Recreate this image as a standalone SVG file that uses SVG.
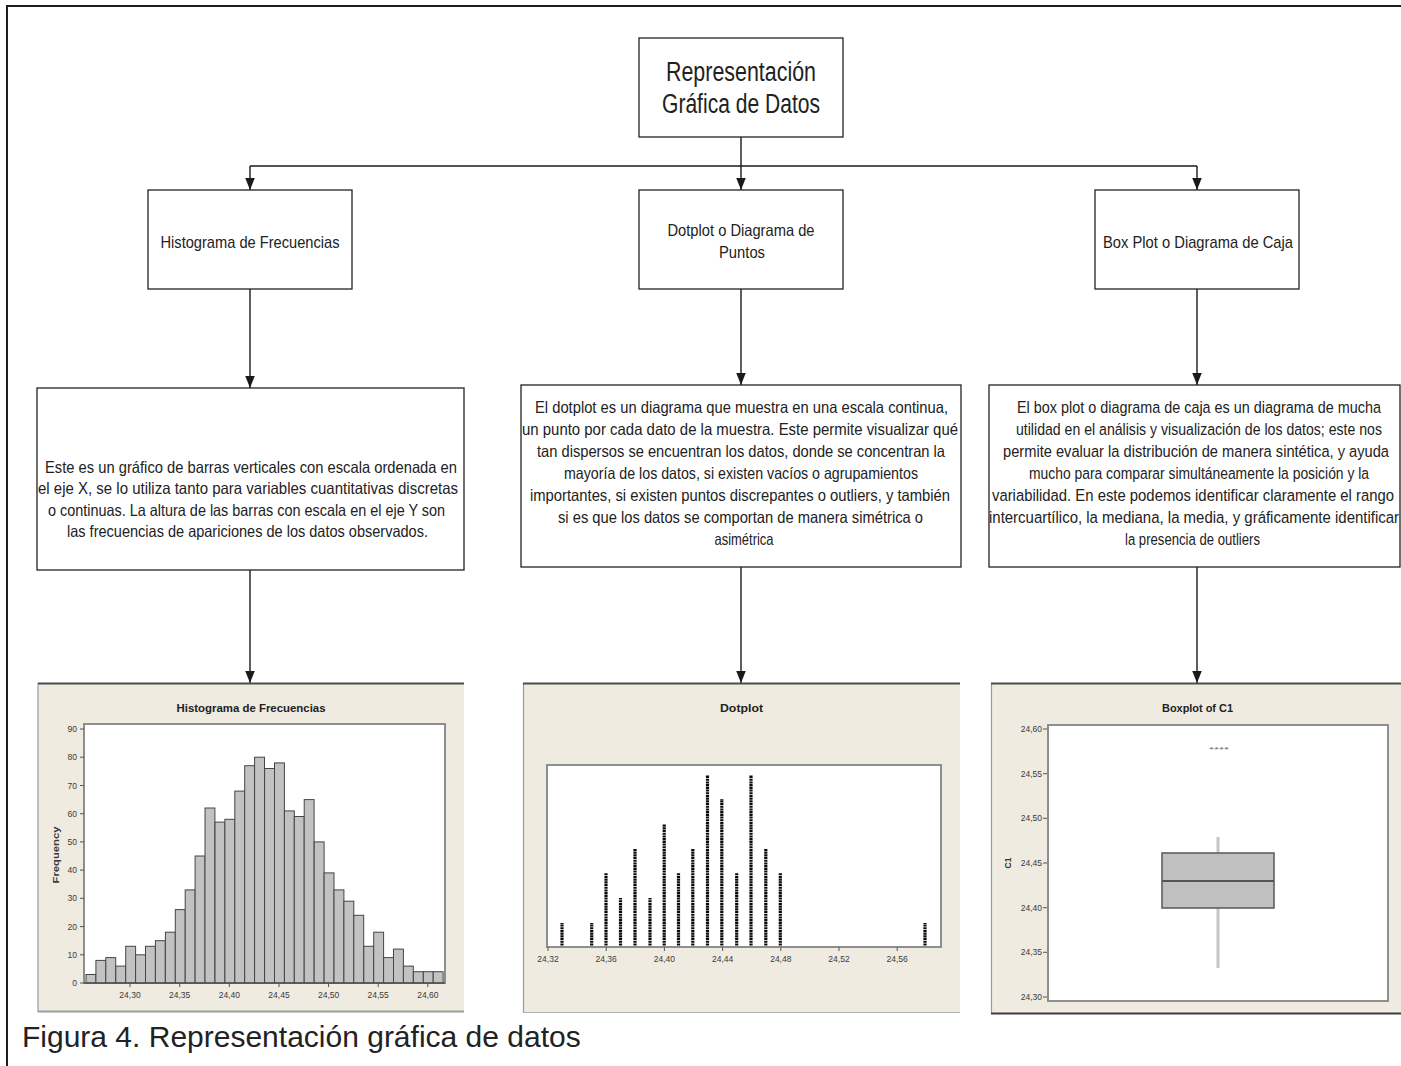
<svg xmlns="http://www.w3.org/2000/svg" width="1401" height="1066" viewBox="0 0 1401 1066">
  <defs>
    <marker id="arrow" markerUnits="userSpaceOnUse" markerWidth="12" markerHeight="10" refX="12" refY="4.75" orient="auto">
      <path d="M0,0 L12,4.75 L0,9.5 z" fill="#1a1a1a"/>
    </marker>
    <style>
      .box { fill: #ffffff; stroke: #222222; stroke-width: 1.3; }
      .lbl { font-family: "Liberation Sans", Arial, sans-serif; fill: #222222; text-anchor: middle; }
      .con { fill: none; stroke: #1a1a1a; stroke-width: 1.4; }
      .panel { fill: #EFEBE1; }
      .plot { fill: #ffffff; stroke: #8e8e8e; stroke-width: 2; }
      .tick { font-family: "Liberation Sans", Arial, sans-serif; font-size: 8.5px; fill: #3a3a3a; }
      .ttl { font-family: "Liberation Sans", Arial, sans-serif; font-size: 10.5px; font-weight: bold; fill: #222222; text-anchor: middle; }
      .bar { fill: #C2C2C2; stroke: #454545; stroke-width: 1; }
      .dots { stroke: #0a0a0a; stroke-width: 3.2; stroke-dasharray: 2.1 0.6; }
      .tk { stroke: #555555; stroke-width: 1; }
    </style>
  </defs>

  <rect x="0" y="0" width="1401" height="1066" fill="#ffffff"/>

  <!-- page frame -->
  <path d="M7,1066 V6 H1401" fill="none" stroke="#1e1e1e" stroke-width="2"/>

  <!-- connectors -->
  <g id="connectors">
    <path class="con" d="M741,137 V166"/>
    <path class="con" d="M250,166 H1197"/>
    <path class="con" d="M250,166 V190" marker-end="url(#arrow)"/>
    <path class="con" d="M741,166 V190" marker-end="url(#arrow)"/>
    <path class="con" d="M1197,166 V190" marker-end="url(#arrow)"/>
    <path class="con" d="M250,289 V388" marker-end="url(#arrow)"/>
    <path class="con" d="M741,289 V385" marker-end="url(#arrow)"/>
    <path class="con" d="M1197,289 V385" marker-end="url(#arrow)"/>
    <path class="con" d="M250,570 V683" marker-end="url(#arrow)"/>
    <path class="con" d="M741,567 V683" marker-end="url(#arrow)"/>
    <path class="con" d="M1197,567 V683" marker-end="url(#arrow)"/>
  </g>

  <!-- root -->
  <g id="root">
    <rect class="box" x="639" y="38" width="204" height="99"/>
    <text class="lbl" x="741" y="81" font-size="27" textLength="150" lengthAdjust="spacingAndGlyphs">Representación</text>
    <text class="lbl" x="741" y="113" font-size="27" textLength="158" lengthAdjust="spacingAndGlyphs">Gráfica de Datos</text>
  </g>

  <!-- level 1 -->
  <g id="histograma">
    <rect class="box" x="148" y="190" width="204" height="99"/>
    <text class="lbl" x="250" y="247.5" font-size="17" textLength="179" lengthAdjust="spacingAndGlyphs">Histograma de Frecuencias</text>
  </g>
  <g id="dotplot">
    <rect class="box" x="639" y="190" width="204" height="99"/>
    <text class="lbl" x="741" y="236" font-size="16.5" textLength="147" lengthAdjust="spacingAndGlyphs">Dotplot o Diagrama de</text>
    <text class="lbl" x="742" y="258" font-size="16.5" textLength="46" lengthAdjust="spacingAndGlyphs">Puntos</text>
  </g>
  <g id="boxplot">
    <rect class="box" x="1095" y="190" width="204" height="99"/>
    <text class="lbl" x="1198" y="247.5" font-size="17" textLength="190" lengthAdjust="spacingAndGlyphs">Box Plot o Diagrama de Caja</text>
  </g>

  <!-- level 2: descriptions -->
  <g id="histograma-desc">
    <rect class="box" x="37" y="388" width="427" height="182"/>
    <g class="lbl" font-size="16.5">
      <text x="251" y="472.5" textLength="412" lengthAdjust="spacingAndGlyphs">Este es un gráfico de barras verticales con escala ordenada en</text>
      <text x="248" y="494" textLength="420" lengthAdjust="spacingAndGlyphs">el eje X, se lo utiliza tanto para variables cuantitativas discretas</text>
      <text x="246.5" y="515.5" textLength="397" lengthAdjust="spacingAndGlyphs">o continuas. La altura de las barras con escala en el eje Y son</text>
      <text x="247.5" y="537" textLength="361" lengthAdjust="spacingAndGlyphs">las frecuencias de apariciones de los datos observados.</text>
    </g>
  </g>
  <g id="dotplot-desc">
    <rect class="box" x="521" y="385" width="440" height="182"/>
    <g class="lbl" font-size="16.5">
      <text x="741.5" y="412.5" textLength="413" lengthAdjust="spacingAndGlyphs">El dotplot es un diagrama que muestra en una escala continua,</text>
      <text x="740" y="434.5" textLength="436" lengthAdjust="spacingAndGlyphs">un punto por cada dato de la muestra. Este permite visualizar qué</text>
      <text x="741" y="456.5" textLength="408" lengthAdjust="spacingAndGlyphs">tan dispersos se encuentran los datos, donde se concentran la</text>
      <text x="741" y="478.5" textLength="354" lengthAdjust="spacingAndGlyphs">mayoría de los datos, si existen vacíos o agrupamientos</text>
      <text x="740" y="500.5" textLength="420" lengthAdjust="spacingAndGlyphs">importantes, si existen puntos discrepantes o outliers, y también</text>
      <text x="740.5" y="522.5" textLength="365" lengthAdjust="spacingAndGlyphs">si es que los datos se comportan de manera simétrica o</text>
      <text x="744" y="544.5" textLength="59" lengthAdjust="spacingAndGlyphs">asimétrica</text>
    </g>
  </g>
  <g id="boxplot-desc">
    <rect class="box" x="989" y="385" width="411" height="182"/>
    <!-- narrowed text block so it fits the box near the page edge -->
    <g class="lbl" font-size="16.5" transform="translate(1196,0) scale(0.9,1)">
      <text x="3.33" y="413" textLength="404.4" lengthAdjust="spacingAndGlyphs">El box plot o diagrama de caja es un diagrama de mucha</text>
      <text x="3.33" y="435" textLength="406.7" lengthAdjust="spacingAndGlyphs">utilidad en el análisis y visualización de los datos; este nos</text>
      <text x="0" y="457" textLength="428.9" lengthAdjust="spacingAndGlyphs">permite evaluar la distribución de manera sintética, y ayuda</text>
      <text x="3.33" y="479" textLength="377.8" lengthAdjust="spacingAndGlyphs">mucho para comparar simultáneamente la posición y la</text>
      <text x="-3.33" y="501" textLength="446.7" lengthAdjust="spacingAndGlyphs">variabilidad. En este podemos identificar claramente el rango</text>
      <text x="-2.22" y="523" textLength="455.6" lengthAdjust="spacingAndGlyphs">intercuartílico, la mediana, la media, y gráficamente identificar</text>
      <text x="-3.89" y="545" textLength="150" lengthAdjust="spacingAndGlyphs">la presencia de outliers</text>
    </g>
  </g>

  <!-- level 3: histogram chart -->
  <g id="histograma-chart">
    <rect class="panel" x="38" y="683" width="426" height="329"/>
    <path d="M38,1012 V683" stroke="#9a9a9a" stroke-width="1.2"/>
    <path d="M38,683.5 H464" stroke="#4d4d4d" stroke-width="2"/>
    <path d="M38,1011.5 H464" stroke="#9c9c9c" stroke-width="2"/>
    <text class="ttl" x="251" y="712" textLength="149" lengthAdjust="spacingAndGlyphs">Histograma de Frecuencias</text>
    <rect class="plot" x="84" y="724" width="361" height="259"/>
    <g>
      <rect class="bar" x="86.0" y="974.5" width="9.9" height="8.5"/>
      <rect class="bar" x="95.9" y="960.4" width="9.9" height="22.6"/>
      <rect class="bar" x="105.8" y="957.6" width="9.9" height="25.4"/>
      <rect class="bar" x="115.8" y="966.1" width="9.9" height="16.9"/>
      <rect class="bar" x="125.7" y="946.3" width="9.9" height="36.7"/>
      <rect class="bar" x="135.6" y="954.8" width="9.9" height="28.2"/>
      <rect class="bar" x="145.5" y="946.3" width="9.9" height="36.7"/>
      <rect class="bar" x="155.4" y="940.7" width="9.9" height="42.3"/>
      <rect class="bar" x="165.4" y="932.2" width="9.9" height="50.8"/>
      <rect class="bar" x="175.3" y="909.6" width="9.9" height="73.4"/>
      <rect class="bar" x="185.2" y="889.9" width="9.9" height="93.1"/>
      <rect class="bar" x="195.1" y="856.0" width="9.9" height="127.0"/>
      <rect class="bar" x="205.0" y="808.0" width="9.9" height="175.0"/>
      <rect class="bar" x="215.0" y="822.1" width="9.9" height="160.9"/>
      <rect class="bar" x="224.9" y="819.3" width="9.9" height="163.7"/>
      <rect class="bar" x="234.8" y="791.1" width="9.9" height="191.9"/>
      <rect class="bar" x="244.7" y="765.7" width="9.9" height="217.3"/>
      <rect class="bar" x="254.6" y="757.2" width="9.9" height="225.8"/>
      <rect class="bar" x="264.6" y="768.5" width="9.9" height="214.5"/>
      <rect class="bar" x="274.5" y="762.9" width="9.9" height="220.1"/>
      <rect class="bar" x="284.4" y="810.9" width="9.9" height="172.1"/>
      <rect class="bar" x="294.3" y="816.5" width="9.9" height="166.5"/>
      <rect class="bar" x="304.2" y="799.6" width="9.9" height="183.4"/>
      <rect class="bar" x="314.2" y="841.9" width="9.9" height="141.1"/>
      <rect class="bar" x="324.1" y="872.9" width="9.9" height="110.1"/>
      <rect class="bar" x="334.0" y="889.9" width="9.9" height="93.1"/>
      <rect class="bar" x="343.9" y="901.2" width="9.9" height="81.8"/>
      <rect class="bar" x="353.8" y="915.3" width="9.9" height="67.7"/>
      <rect class="bar" x="363.8" y="946.3" width="9.9" height="36.7"/>
      <rect class="bar" x="373.7" y="932.2" width="9.9" height="50.8"/>
      <rect class="bar" x="383.6" y="957.6" width="9.9" height="25.4"/>
      <rect class="bar" x="393.5" y="949.1" width="9.9" height="33.9"/>
      <rect class="bar" x="403.4" y="966.1" width="9.9" height="16.9"/>
      <rect class="bar" x="413.4" y="971.7" width="9.9" height="11.3"/>
      <rect class="bar" x="423.3" y="971.7" width="9.9" height="11.3"/>
      <rect class="bar" x="433.2" y="971.7" width="9.9" height="11.3"/>
    </g>
    <path d="M84,983 H445" stroke="#555555" stroke-width="1.5"/>
    <!-- axis ticks -->
    <g class="tk">
      <path d="M80,983 H84 M80,954.8 H84 M80,926.6 H84 M80,898.3 H84 M80,870.1 H84 M80,841.9 H84 M80,813.7 H84 M80,785.5 H84 M80,757.2 H84 M80,729 H84"/>
      <path d="M130,983 V987 M179.7,983 V987 M229.3,983 V987 M279,983 V987 M328.6,983 V987 M378.2,983 V987 M427.8,983 V987"/>
    </g>
    <g class="tick" text-anchor="end">
      <text x="77" y="986">0</text>
      <text x="77" y="957.8">10</text>
      <text x="77" y="929.6">20</text>
      <text x="77" y="901.3">30</text>
      <text x="77" y="873.1">40</text>
      <text x="77" y="844.9">50</text>
      <text x="77" y="816.7">60</text>
      <text x="77" y="788.5">70</text>
      <text x="77" y="760.2">80</text>
      <text x="77" y="732">90</text>
    </g>
    <g class="tick" text-anchor="middle">
      <text x="130" y="998">24,30</text>
      <text x="179.7" y="998">24,35</text>
      <text x="229.3" y="998">24,40</text>
      <text x="279" y="998">24,45</text>
      <text x="328.6" y="998">24,50</text>
      <text x="378.2" y="998">24,55</text>
      <text x="427.8" y="998">24,60</text>
    </g>
    <text class="tick" font-weight="bold" fill="#111111" text-anchor="middle" transform="translate(58.5,855) rotate(-90)" textLength="57" lengthAdjust="spacingAndGlyphs">Frequency</text>
  </g>

  <!-- level 3: dotplot chart -->
  <g id="dotplot-chart">
    <rect class="panel" x="523" y="683" width="437" height="330"/>
    <path d="M523.5,1013 V683" stroke="#9a9a9a" stroke-width="1.2"/>
    <path d="M523,683.5 H960" stroke="#4d4d4d" stroke-width="2"/>
    <path d="M523,1012.5 H960" stroke="#b0b0b0" stroke-width="1.2"/>
    <text class="ttl" x="741.5" y="712" font-family="Liberation Serif, serif" textLength="43" lengthAdjust="spacingAndGlyphs">Dotplot</text>
    <rect class="plot" x="547" y="765" width="394" height="182"/>
    <g class="dots">
      <path d="M562,945.5 V923"/>
      <path d="M591.7,945.5 V923"/>
      <path d="M606,945.5 V873"/>
      <path d="M620.5,945.5 V898"/>
      <path d="M635,945.5 V849"/>
      <path d="M650,945.5 V898"/>
      <path d="M664.2,945.5 V824"/>
      <path d="M678.5,945.5 V873"/>
      <path d="M692.8,945.5 V849"/>
      <path d="M707.5,945.5 V775"/>
      <path d="M721.8,945.5 V799"/>
      <path d="M736.7,945.5 V873"/>
      <path d="M751,945.5 V775"/>
      <path d="M765.8,945.5 V849"/>
      <path d="M780.3,945.5 V873"/>
      <path d="M925,945.5 V923"/>
    </g>
    <g class="tk">
      <path d="M548,947 V951 M606.2,947 V951 M664.4,947 V951 M722.6,947 V951 M780.8,947 V951 M839,947 V951 M897.2,947 V951"/>
    </g>
    <g class="tick" text-anchor="middle">
      <text x="548" y="962">24,32</text>
      <text x="606.2" y="962">24,36</text>
      <text x="664.4" y="962">24,40</text>
      <text x="722.6" y="962">24,44</text>
      <text x="780.8" y="962">24,48</text>
      <text x="839" y="962">24,52</text>
      <text x="897.2" y="962">24,56</text>
    </g>
  </g>

  <!-- level 3: boxplot chart -->
  <g id="boxplot-chart">
    <rect class="panel" x="991" y="683" width="410" height="331"/>
    <path d="M991.5,1014 V683" stroke="#9a9a9a" stroke-width="1.2"/>
    <path d="M991,683.5 H1401" stroke="#4d4d4d" stroke-width="2"/>
    <path d="M991,1013.5 H1401" stroke="#3d3d3d" stroke-width="2"/>
    <text class="ttl" x="1197.5" y="712" textLength="71" lengthAdjust="spacingAndGlyphs">Boxplot of C1</text>
    <rect class="plot" x="1048" y="725" width="340" height="276"/>
    <!-- whiskers -->
    <path d="M1218,837 V853 M1218,908 V968" stroke="#c6c6c6" stroke-width="3"/>
    <rect x="1162" y="853" width="112" height="55" fill="#C0C0C0" stroke="#5f5f5f" stroke-width="1.6"/>
    <path d="M1162,881 H1274" stroke="#555555" stroke-width="1.8"/>
    <text x="1219" y="752" font-family="Liberation Sans, Arial, sans-serif" font-size="8" fill="#707070" text-anchor="middle" textLength="20" lengthAdjust="spacingAndGlyphs">****</text>
    <g class="tk">
      <path d="M1043,729 H1047 M1043,773.7 H1047 M1043,818.3 H1047 M1043,863 H1047 M1043,907.7 H1047 M1043,952.3 H1047 M1043,997 H1047"/>
    </g>
    <g class="tick" text-anchor="end">
      <text x="1042" y="732">24,60</text>
      <text x="1042" y="776.7">24,55</text>
      <text x="1042" y="821.3">24,50</text>
      <text x="1042" y="866">24,45</text>
      <text x="1042" y="910.7">24,40</text>
      <text x="1042" y="955.3">24,35</text>
      <text x="1042" y="1000">24,30</text>
    </g>
    <text class="tick" font-weight="bold" fill="#111111" text-anchor="middle" transform="translate(1011,863) rotate(-90)">C1</text>
  </g>

  <!-- caption -->
  <text x="22" y="1047" font-family="Liberation Sans, Arial, sans-serif" font-size="30" fill="#222222">Figura 4. Representación gráfica de datos</text>
</svg>
